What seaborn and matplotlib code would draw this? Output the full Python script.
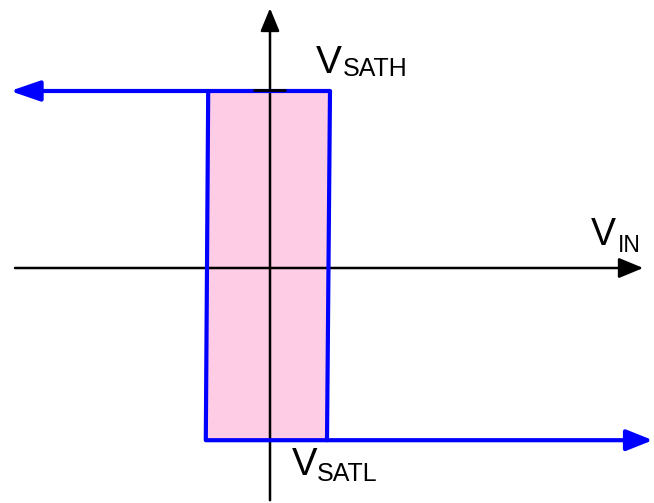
import matplotlib
matplotlib.use("Agg")
import matplotlib.pyplot as plt
import seaborn as sns
import pandas as pd

# ---- data (schematic units; origin at axis crossing) ----
vin_th_low_top, vin_th_low_bot = -1.03, -1.07     # left switching threshold
vin_th_high_top, vin_th_high_bot = 1.00, 0.95     # right switching threshold
v_sath = 2.95                                      # positive saturation
v_satl = -2.87                                     # negative saturation
upper_arrow_tip = -4.33
lower_arrow_tip = 6.38
xaxis_range = [-4.25, 6.22]
yaxis_range = [-3.87, 4.33]
top_tick = [-0.27, 0.25]
labels = ["V", "V", "V"]
subs = ["SATH", "IN", "SATL"]
label_pos = [(0.77, 3.25), (5.35, 0.383), (0.367, -3.45)]
label_sizes = [28, 27, 27.5]
sub_sizes = [18, 16.5, 18]
sub_offsets = [(19, -2.2), (19, -5), (18, -4.3)]

sns.set_theme(style="white")
plt.rcParams["font.family"] = ["Liberation Sans", "DejaVu Sans"]

fig = plt.figure(figsize=(6.54, 5.03), dpi=100)
ax = fig.add_axes([0, 0, 1, 1])
ax.set_xlim(-270 / 60, (654 - 270) / 60)
ax.set_ylim((268 - 503) / 60, 268 / 60)
ax.axis("off")

blue = "#0000FF"
pink = "#FFCCE6"

# pink hysteresis region
ax.fill([vin_th_low_top, vin_th_high_top, vin_th_high_bot, vin_th_low_bot],
        [v_sath, v_sath, v_satl, v_satl], color=pink, zorder=1, lw=0)

# axes with arrowheads
ax.annotate("", xy=(xaxis_range[1], 0), xytext=(xaxis_range[0], 0),
            arrowprops=dict(arrowstyle="-|>,head_length=0.75,head_width=0.31",
                            color="black", lw=1.8, shrinkA=0, shrinkB=0,
                            mutation_scale=20), zorder=2)
ax.annotate("", xy=(0, yaxis_range[1]), xytext=(0, yaxis_range[0]),
            arrowprops=dict(arrowstyle="-|>,head_length=0.7,head_width=0.29",
                            color="black", lw=1.8, shrinkA=0, shrinkB=0,
                            mutation_scale=20), zorder=2)

# hysteresis loop
loop = pd.DataFrame({
    "x": [vin_th_low_top, vin_th_high_top, vin_th_high_bot, vin_th_low_bot, vin_th_low_top],
    "y": [v_sath, v_sath, v_satl, v_satl, v_sath],
})
sns.lineplot(data=loop, x="x", y="y", sort=False, estimator=None, ax=ax,
             color=blue, lw=3, zorder=3, legend=False)

# saturation branches with arrows
ax.annotate("", xy=(upper_arrow_tip, v_sath), xytext=(vin_th_low_top, v_sath),
            arrowprops=dict(arrowstyle="-|>,head_length=0.9,head_width=0.31",
                            color=blue, lw=3, shrinkA=0, shrinkB=0,
                            mutation_scale=20), zorder=3)
ax.annotate("", xy=(lower_arrow_tip, v_satl), xytext=(vin_th_high_bot, v_satl),
            arrowprops=dict(arrowstyle="-|>,head_length=0.8,head_width=0.32",
                            color=blue, lw=3, shrinkA=0, shrinkB=0,
                            mutation_scale=20), zorder=3)

# small black tick on top
ax.plot(top_tick, [v_sath + 0.01, v_sath + 0.01], color="black", lw=2, zorder=4)

# labels
for lab, sub, (x, y), fs, sfs, off in zip(labels, subs, label_pos,
                                           label_sizes, sub_sizes, sub_offsets):
    ax.text(x, y, lab, fontsize=fs, ha="left", va="baseline", color="black", zorder=5)
    ax.annotate(sub, xy=(x, y), xytext=off, textcoords="offset points",
                fontsize=sfs, ha="left", va="baseline", color="black", zorder=5)

fig.savefig("out.png", dpi=100)
